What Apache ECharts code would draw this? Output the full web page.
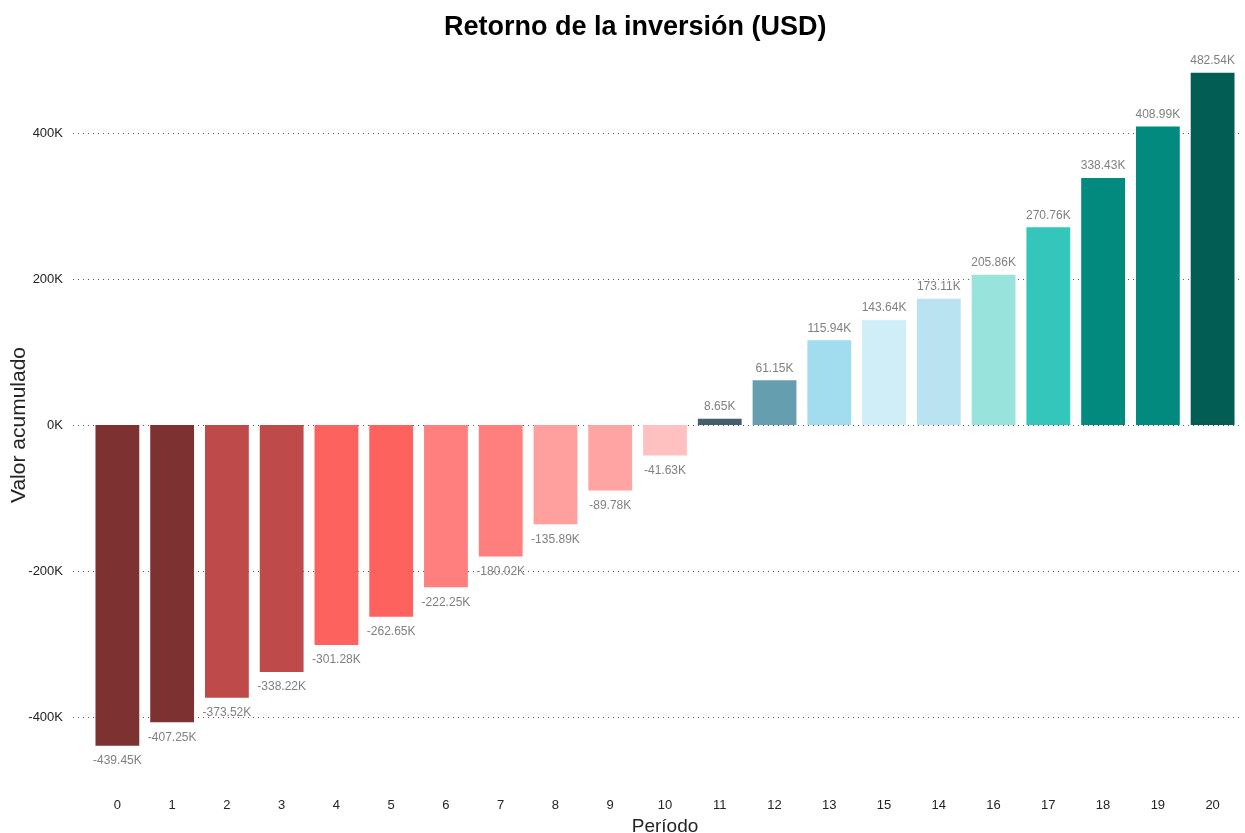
<!DOCTYPE html>
<html>
<head>
<meta charset="utf-8">
<title>Retorno de la inversión (USD)</title>
<script src="https://cdn.jsdelivr.net/npm/echarts@6/dist/echarts.min.js"></script>
<style>
  html, body { margin: 0; padding: 0; background: #ffffff; }
  #chart { width: 1245px; height: 833px; }
</style>
</head>
<body>
<div id="chart"></div>
<script>
// Periods in display order and accumulated value per period (USD)
const periods = ['0', '1', '2', '3', '4', '5', '6', '7', '8', '9', '10',
                 '11', '12', '13', '15', '14', '16', '17', '18', '19', '20'];
const accumulated = [-439450, -407250, -373520, -338220, -301280, -262650,
                     -222250, -180020, -135890, -89780, -41630, 8650, 61150,
                     115940, 143640, 173110, 205860, 270760, 338430, 408990, 482540];
const barColors = ['#7D3131', '#7D3131', '#BE4B4A', '#BE4B4A', '#FD625E', '#FD625E',
                   '#FF7F7E', '#FF7F7E', '#FF9F9E', '#FFA3A3', '#FFC0C0', '#41606C',
                   '#659EAF', '#A2DDEF', '#D0EEF7', '#B9E3F1', '#98E3DB', '#34C6BB',
                   '#038A7F', '#038A7F', '#025D55'];

const yMin = -500000;
const yMax = 500000;
const font = 'Liberation Sans, Arial, sans-serif';

function fmtK(v) {
  return (v / 1000).toFixed(2) + 'K';
}

const chart = echarts.init(document.getElementById('chart'), null, { renderer: 'canvas' });

chart.setOption({
  backgroundColor: '#ffffff',
  animation: false,
  title: {
    text: 'Retorno de la inversión (USD)',
    left: 439,
    top: 9,
    textStyle: { fontFamily: font, fontSize: 27, fontWeight: 'bold', color: '#000000' }
  },
  grid: [
    // background grid: value axis labels and dotted gridlines
    { left: 73, right: 5, top: 60, bottom: 43, outerBoundsMode: 'none', containLabel: false },
    // bar grid
    { left: 90, right: 5, top: 60, bottom: 43, outerBoundsMode: 'none', containLabel: false }
  ],
  xAxis: [
    { type: 'value', gridIndex: 0, show: false, min: 0, max: 1 },
    {
      type: 'category',
      gridIndex: 1,
      data: periods,
      axisLine: { show: false },
      axisTick: { show: false },
      axisLabel: { color: '#252423', fontFamily: font, fontSize: 13, margin: 9 },
      name: 'Período',
      nameLocation: 'middle',
      nameGap: 27,
      nameMoveOverlap: false,
      nameTextStyle: { color: '#252423', fontFamily: font, fontSize: 19 }
    }
  ],
  yAxis: [
    {
      type: 'value',
      gridIndex: 0,
      min: yMin,
      max: yMax,
      splitNumber: 5,
      axisLine: { show: false },
      axisTick: { show: false },
      axisLabel: {
        color: '#252423',
        fontFamily: font,
        fontSize: 13,
        margin: 10,
        showMinLabel: false,
        showMaxLabel: false,
        formatter: function (v) { return (v / 1000).toFixed(0) + 'K'; }
      },
      splitLine: {
        show: true,
        showMinLine: false,
        showMaxLine: false,
        lineStyle: { color: '#5a5a5a', width: 1, type: [1, 4] }
      },
      name: 'Valor acumulado',
      nameLocation: 'middle',
      nameRotate: 90,
      nameGap: 43,
      nameMoveOverlap: false,
      nameTextStyle: { color: '#252423', fontFamily: font, fontSize: 21 }
    },
    {
      type: 'value',
      gridIndex: 1,
      min: yMin,
      max: yMax,
      show: false,
      splitLine: { show: false }
    }
  ],
  series: [
    {
      type: 'bar',
      xAxisIndex: 1,
      yAxisIndex: 1,
      barCategoryGap: '20%',
      data: accumulated.map(function (v, i) {
        return {
          value: v,
          itemStyle: { color: barColors[i] },
          label: { position: v >= 0 ? 'top' : 'bottom', distance: v >= 0 ? 6 : 9 }
        };
      }),
      label: {
        show: true,
        color: '#808080',
        fontFamily: font,
        fontSize: 12,
        formatter: function (p) { return fmtK(p.value); }
      }
    }
  ]
});
</script>
</body>
</html>
